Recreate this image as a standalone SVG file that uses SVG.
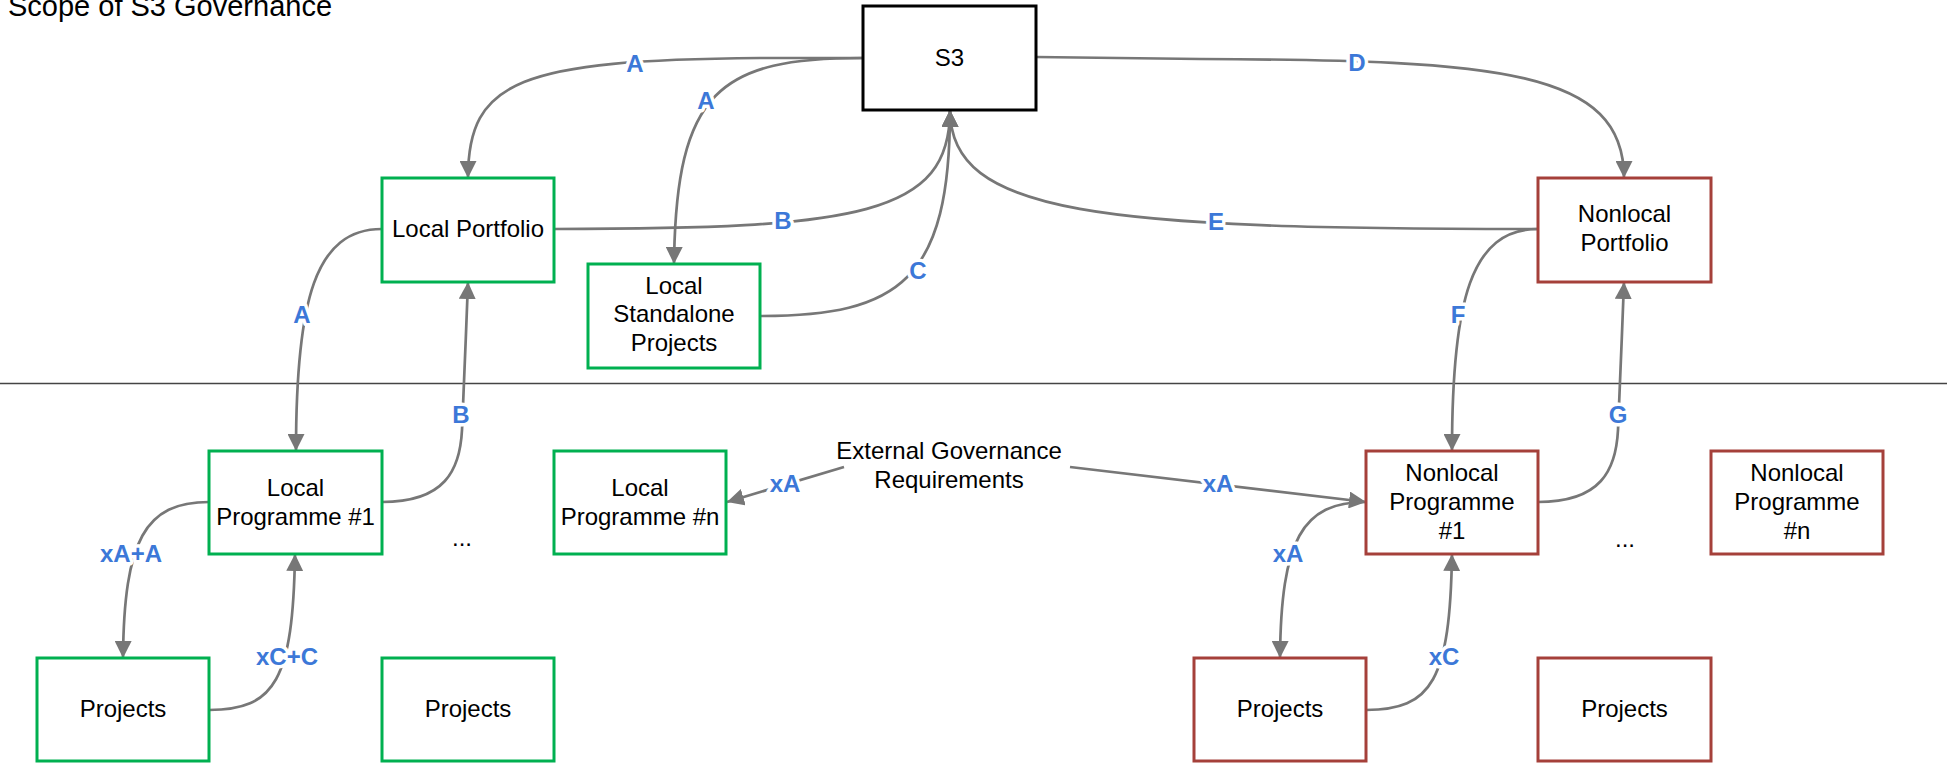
<svg xmlns="http://www.w3.org/2000/svg" width="1947" height="763" viewBox="0 0 1947 763">
<defs>
<marker id="arr" markerUnits="userSpaceOnUse" markerWidth="17" markerHeight="17" viewBox="0 0 17 17" refX="17" refY="8.5" orient="auto">
<path d="M0,0 L17,8.5 L0,17 z" fill="#777777"/>
</marker>
<style>
.box{fill:#ffffff;stroke-width:3}
.g{stroke:#00b050}
.r{stroke:#a5403a}
.k{stroke:#000000}
.t{font-family:"Liberation Sans",Arial,sans-serif;font-size:24px;fill:#000000;text-anchor:middle}
.c{fill:none;stroke:#777777;stroke-width:2.7}
.lbl{font-family:"Liberation Sans",Arial,sans-serif;font-size:24px;font-weight:bold;fill:#3c78d8;text-anchor:middle;stroke:#ffffff;stroke-width:7;paint-order:stroke;stroke-linejoin:round}
</style>
</defs>
<rect width="1947" height="763" fill="#ffffff"/>
<text x="8" y="16" style="font-family:'Liberation Sans',Arial,sans-serif;font-size:29px;fill:#000000">Scope of S3 Governance</text>
<line x1="0" y1="383.5" x2="1947" y2="383.5" stroke="#444444" stroke-width="1.5"/>

<g id="connectors">
<path class="c" marker-end="url(#arr)" d="M863,58 L760,58 C520,60 468,80 468,178"/>
<path class="c" marker-end="url(#arr)" d="M863,58 C720,58 676,90 674,264"/>
<path class="c" marker-end="url(#arr)" d="M1036,57 L1200,59 C1500,60 1624,70 1624,178"/>
<path class="c" marker-end="url(#arr)" d="M554,229 C860,229 950,215 950,110"/>
<path class="c" marker-end="url(#arr)" d="M760,316 C900,316 950,280 950,110"/>
<path class="c" marker-end="url(#arr)" d="M1538,229 C1100,229 950,215 950,110"/>
<path class="c" marker-end="url(#arr)" d="M382,229 C315,229 296,300 296,451"/>
<path class="c" marker-end="url(#arr)" d="M382,502 C445,502 460,470 462,430 C464,390 466,330 468,282"/>
<path class="c" marker-end="url(#arr)" d="M1538,229 C1471,229 1452,300 1452,451"/>
<path class="c" marker-end="url(#arr)" d="M1538,502 C1601,502 1616,470 1618,430 C1620,390 1622,330 1624,282"/>
<path class="c" marker-end="url(#arr)" d="M209,502 C145,502 124,540 123,658"/>
<path class="c" marker-end="url(#arr)" d="M209,710 C275,710 293,680 295,554"/>
<path class="c" marker-end="url(#arr)" d="M1366,502 C1302,502 1281,540 1280,658"/>
<path class="c" marker-end="url(#arr)" d="M1366,710 C1432,710 1450,680 1452,554"/>
<path class="c" marker-end="url(#arr)" d="M844,467 L727,502"/>
<path class="c" marker-end="url(#arr)" d="M1070,467 L1366,502"/>
<text class="lbl" x="635" y="72">A</text>
<text class="lbl" x="706" y="109">A</text>
<text class="lbl" x="1357" y="71">D</text>
<text class="lbl" x="783" y="229">B</text>
<text class="lbl" x="918" y="279">C</text>
<text class="lbl" x="1216" y="230">E</text>
<text class="lbl" x="302" y="323">A</text>
<text class="lbl" x="461" y="423">B</text>
<text class="lbl" x="1458" y="323">F</text>
<text class="lbl" x="1618" y="423">G</text>
<text class="lbl" x="131" y="562">xA+A</text>
<text class="lbl" x="287" y="665">xC+C</text>
<text class="lbl" x="785" y="492">xA</text>
<text class="lbl" x="1218" y="492">xA</text>
<text class="lbl" x="1288" y="562">xA</text>
<text class="lbl" x="1444" y="665">xC</text>
</g>

<g id="s3"><rect class="box k" x="863" y="6" width="173" height="104"/><text class="t" x="949.5" y="66">S3</text></g>
<g id="local-portfolio"><rect class="box g" x="382" y="178" width="172" height="104"/><text class="t" x="468" y="237">Local Portfolio</text></g>
<g id="local-standalone"><rect class="box g" x="588" y="264" width="172" height="104"/><text class="t" x="674" y="293.5">Local</text><text class="t" x="674" y="322">Standalone</text><text class="t" x="674" y="350.5">Projects</text></g>
<g id="nonlocal-portfolio"><rect class="box r" x="1538" y="178" width="173" height="104"/><text class="t" x="1624.5" y="222">Nonlocal</text><text class="t" x="1624.5" y="251">Portfolio</text></g>
<g id="local-programme-1"><rect class="box g" x="209" y="451" width="173" height="103"/><text class="t" x="295.5" y="496">Local</text><text class="t" x="295.5" y="524.5">Programme #1</text></g>
<g id="local-programme-n"><rect class="box g" x="554" y="451" width="172" height="103"/><text class="t" x="640" y="496">Local</text><text class="t" x="640" y="524.5">Programme #n</text></g>
<g id="nonlocal-programme-1"><rect class="box r" x="1366" y="451" width="172" height="103"/><text class="t" x="1452" y="481">Nonlocal</text><text class="t" x="1452" y="510">Programme</text><text class="t" x="1452" y="538.5">#1</text></g>
<g id="nonlocal-programme-n"><rect class="box r" x="1711" y="451" width="172" height="103"/><text class="t" x="1797" y="481">Nonlocal</text><text class="t" x="1797" y="510">Programme</text><text class="t" x="1797" y="538.5">#n</text></g>
<g id="projects-1"><rect class="box g" x="37" y="658" width="172" height="103"/><text class="t" x="123" y="717">Projects</text></g>
<g id="projects-2"><rect class="box g" x="382" y="658" width="172" height="103"/><text class="t" x="468" y="717">Projects</text></g>
<g id="projects-3"><rect class="box r" x="1194" y="658" width="172" height="103"/><text class="t" x="1280" y="717">Projects</text></g>
<g id="projects-4"><rect class="box r" x="1538" y="658" width="173" height="103"/><text class="t" x="1624.5" y="717">Projects</text></g>
<g id="external"><text class="t" x="949" y="459">External Governance</text><text class="t" x="949" y="488">Requirements</text></g>
<text class="t" x="462" y="546">...</text>
<text class="t" x="1625" y="547">...</text>
</svg>
